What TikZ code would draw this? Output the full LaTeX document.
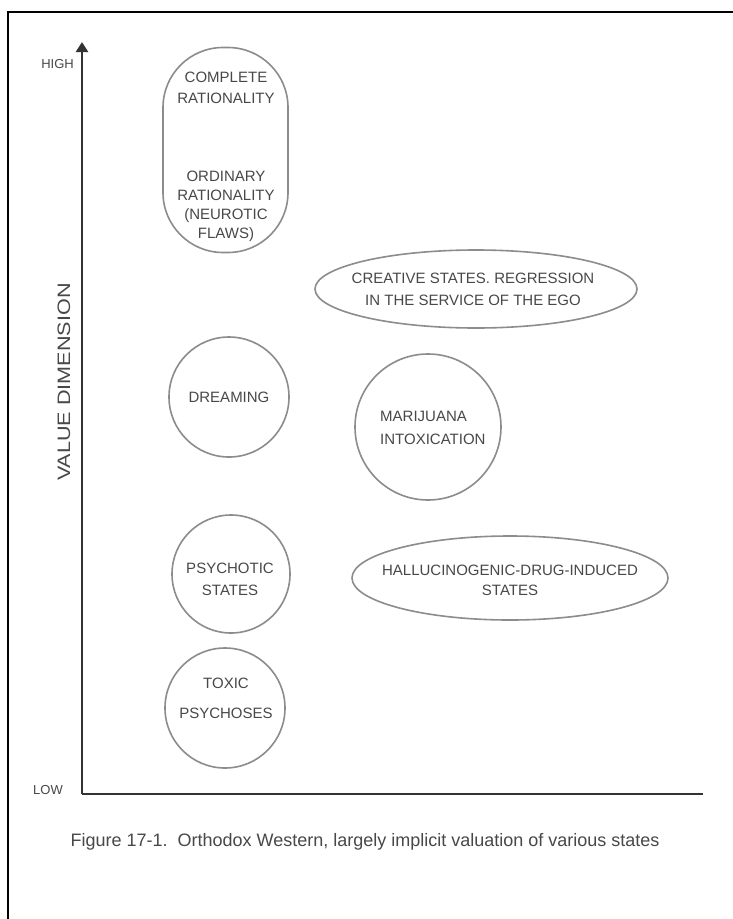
\documentclass[tikz,border=0pt]{standalone}
\usepackage{fontspec}
\setmainfont{Liberation Sans}
\usetikzlibrary{shapes.geometric,arrows.meta}
\definecolor{txtgray}{HTML}{484848}
\definecolor{linegray}{HTML}{8C8C8C}
\definecolor{axisgray}{HTML}{333333}
\begin{document}
\begin{tikzpicture}[x=1pt,y=-1pt,
  lbl/.style={text=txtgray,font=\fontsize{15}{20}\selectfont,align=center,inner sep=0pt},
  blob/.style={draw=linegray,line width=1.6pt,inner sep=0pt},
  roundstate/.style={blob,circle,minimum size=#1},
  ovalstate/.style={blob,ellipse,minimum width=#1},
  axisline/.style={draw=axisgray,line width=2.8pt},
  frameline/.style={draw=black,line width=2.5pt}
]
\useasboundingbox (0,0) rectangle (733,919);
\fill[white] (0,0) rectangle (733,919);

% outer frame (top and left edges)
\coordinate (frTR) at (733,12);
\coordinate (frBL) at (8,919);
\draw[frameline] (frTR) -| (frBL);

% axes
\coordinate (origin) at (82,794);
\coordinate (ytip) at (82,42);
\coordinate (xend) at (703,794);
\draw[axisline,-{Triangle[width=12pt,length=10pt]}] (origin) -- (ytip);
\draw[axisline] (origin) -- (xend);

\node[lbl,anchor=east,font=\fontsize{13}{16}\selectfont] (high) at (74,64) {HIGH};
\node[lbl,anchor=east,font=\fontsize{13}{16}\selectfont] (low) at (63,790) {LOW};
\node[lbl,rotate=90,font=\fontsize{18}{20}\selectfont] (valdim) at (64,382) {\scalebox{1.2}[1]{VALUE DIMENSION}};

% rationality capsule
\node[blob,rectangle,rounded corners=60pt,minimum width=125pt,minimum height=205pt] (ration) at (225.5,150) {};
\node[lbl,font=\fontsize{15}{21}\selectfont] (complete) at (226,88) {COMPLETE\\RATIONALITY};
\node[lbl,font=\fontsize{15}{19}\selectfont] (ordinary) at (226,206) {ORDINARY\\RATIONALITY\\(NEUROTIC\\FLAWS)};

% creative states
\node[ovalstate=322pt,minimum height=78pt] (creative) at (476,289) {};
\node[lbl,font=\fontsize{15}{22}\selectfont] (creativetxt) at (473,289) {CREATIVE STATES. REGRESSION\\IN THE SERVICE OF THE EGO};

% dreaming
\node[roundstate=120pt] (dream) at (229,397) {};
\node[lbl] (dreamtxt) at (229,397) {DREAMING};

% marijuana
\node[roundstate=146pt] (marij) at (428,427) {};
\node[lbl,align=left,anchor=west,font=\fontsize{15}{23}\selectfont] (marijtxt) at (380,428) {MARIJUANA\\INTOXICATION};

% psychotic states
\node[roundstate=118pt] (psych) at (231,574) {};
\node[lbl,font=\fontsize{15}{22}\selectfont] (psychtxt) at (230,579) {PSYCHOTIC\\STATES};

% hallucinogenic drug states
\node[ovalstate=316pt,minimum height=84pt] (halluc) at (510,578) {};
\node[lbl] (halluctxt) at (510,580) {HALLUCINOGENIC-DRUG-INDUCED\\STATES};

% toxic psychoses
\node[roundstate=120pt] (toxic) at (225,708) {};
\node[lbl,font=\fontsize{15}{30}\selectfont] (toxictxt) at (226,698) {TOXIC\\PSYCHOSES};

% caption
\node[text=txtgray,font=\fontsize{18}{20}\selectfont,inner sep=0pt] (caption) at (365,842)
  {Figure 17-1.\ \ Orthodox Western, largely implicit valuation of various states};
\end{tikzpicture}
\end{document}
